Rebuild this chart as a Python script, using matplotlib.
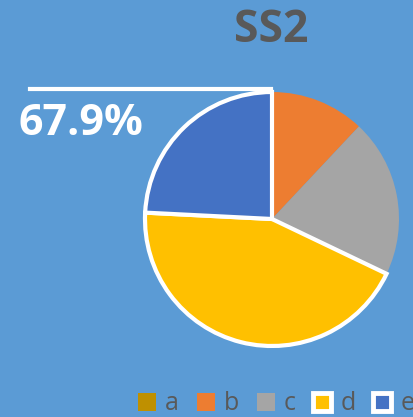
import numpy as np
import matplotlib.pyplot as plt
from matplotlib.patches import Patch
from matplotlib.lines import Line2D

# data
labels = ["a", "b", "c", "d", "e"]
values = [0.0, 12.0, 20.1, 43.7, 24.2]
colors = ["#BF9000", "#ED7D31", "#A5A5A5", "#FFC000", "#4472C4"]
outlined = ["d", "e"]
title = "SS2"

BG = "#5B9BD5"
TXT = "#595959"
W, H = 413, 417

fig = plt.figure(figsize=(W / 100, H / 100), dpi=100, facecolor=BG)

# pie axes placed in pixel terms
cx, cy, r = 272, 219, 127
ax = fig.add_axes([(cx - r) / W, (H - cy - r) / H, 2 * r / W, 2 * r / H])
ax.set_facecolor(BG)

wedges, _ = ax.pie(values, colors=colors, startangle=90, counterclock=False,
                   radius=1.0, wedgeprops=dict(linewidth=0))
for w, lab in zip(wedges, labels):
    if lab in outlined:
        w.set_edgecolor("white")
        w.set_linewidth(3.0)
        w.set_zorder(3)
ax.set_xlim(-1, 1)
ax.set_ylim(-1, 1)
ax.axis("off")

# leader line for the combined label
fig.add_artist(Line2D([30 / W, 271 / W], [1 - 89 / H, 1 - 89 / H],
                      transform=fig.transFigure, color="white", linewidth=3.0))
combined = values[labels.index("d")] + values[labels.index("e")]
fig.text(19 / W, 1 - 124 / H, f"{combined:.1f}%", color="white",
         fontsize=31, fontweight="bold", family="Open Sans", va="center", ha="left")

fig.text(271 / W, 1 - 31 / H, title, color=TXT, fontsize=32, fontweight="bold",
         family="Open Sans", ha="center", va="center")

handles = []
for lab, col in zip(labels, colors):
    if lab in outlined:
        handles.append(Patch(facecolor=col, edgecolor="white", linewidth=3.5))
    else:
        handles.append(Patch(facecolor=col, edgecolor="none"))
leg = fig.legend(handles, labels, ncol=5, loc="center left",
                 bbox_to_anchor=(138 / W, 1 - 404 / H), frameon=False,
                 prop={"family": "Open Sans", "size": 18},
                 handlelength=0.72, handleheight=0.72, handletextpad=0.35,
                 columnspacing=0.72, borderaxespad=0, borderpad=0)
for t in leg.get_texts():
    t.set_color(TXT)

fig.savefig("out.png", dpi=100, facecolor=BG)
